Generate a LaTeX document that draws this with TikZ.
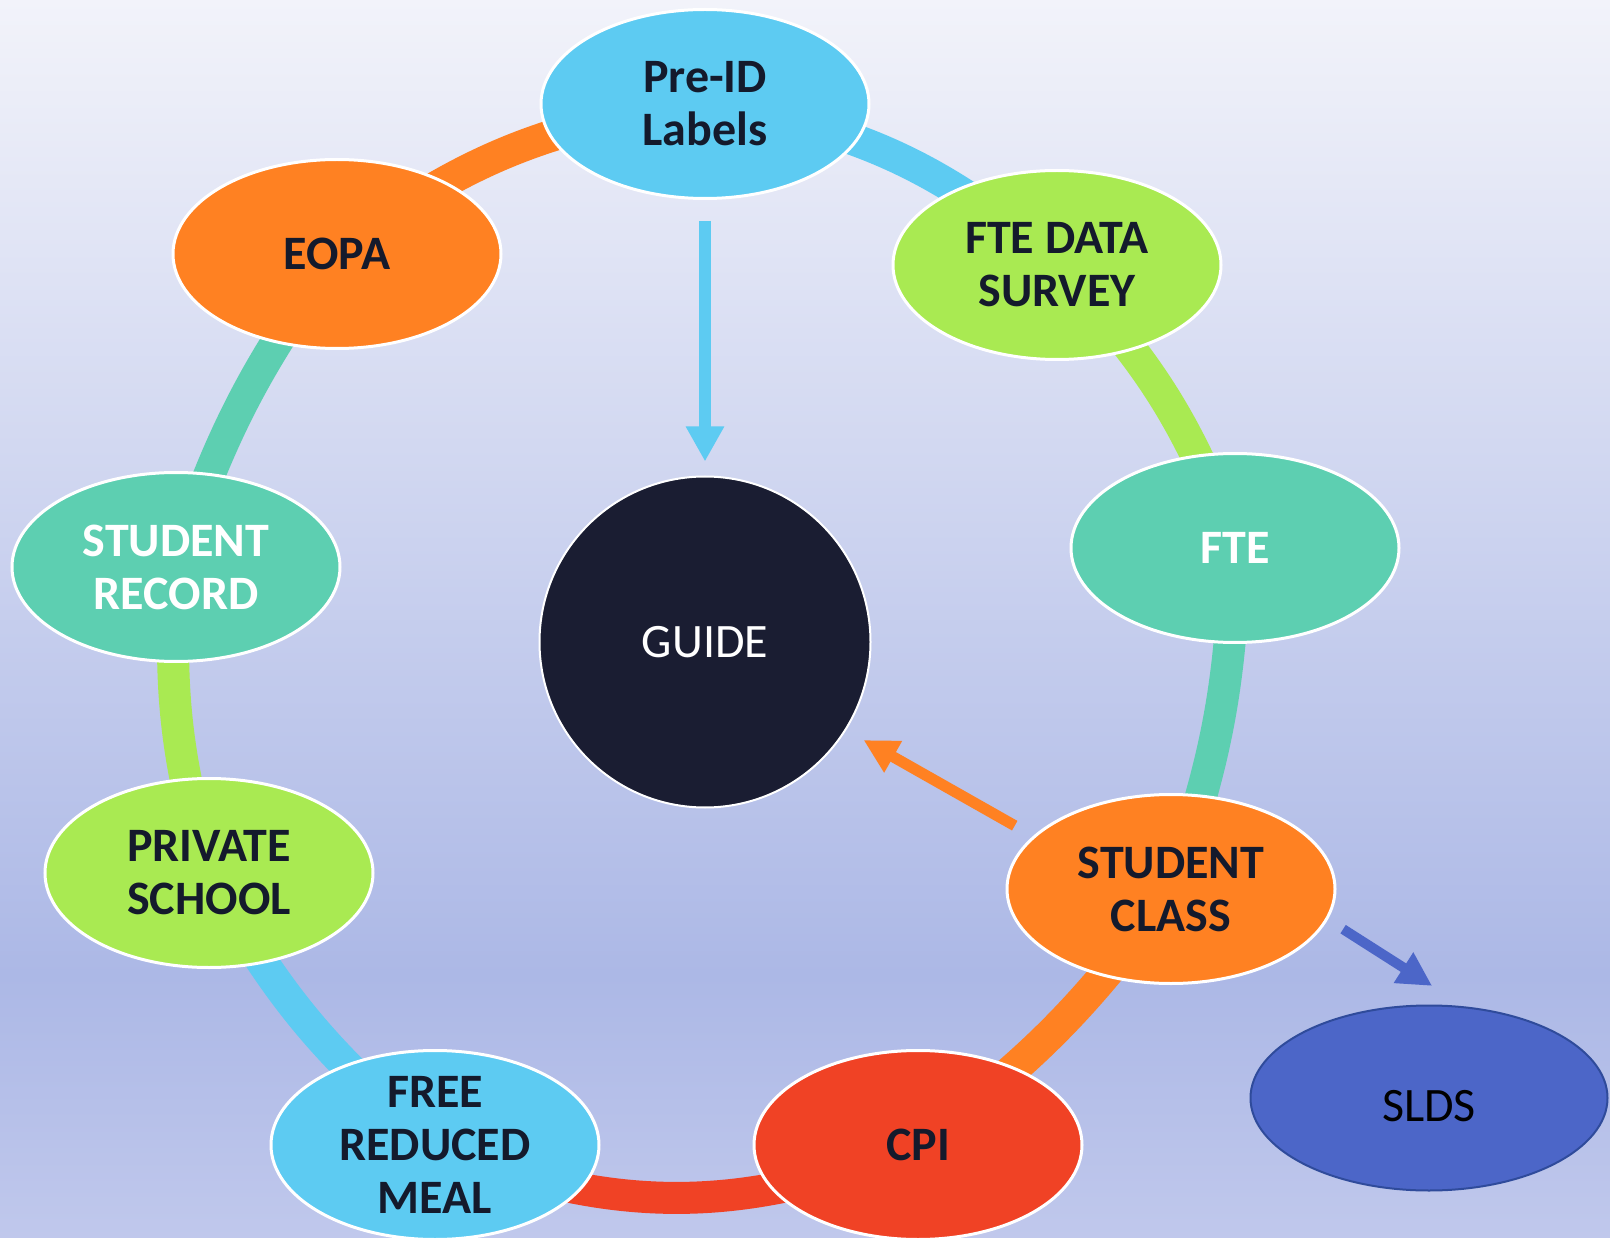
\documentclass[tikz,border=0pt]{standalone}
\usepackage{fontspec}
\setmainfont{Carlito}
\usetikzlibrary{arrows.meta,shapes.geometric}
\definecolor{cblue}{HTML}{5DCBF2}
\definecolor{corange}{HTML}{FF8122}
\definecolor{cgreen}{HTML}{A9EA52}
\definecolor{cteal}{HTML}{5DCFB1}
\definecolor{cred}{HTML}{F04225}
\definecolor{cslds}{HTML}{4C66C8}
\definecolor{csldsb}{HTML}{2F4B9B}
\definecolor{cguide}{HTML}{1A1D32}
\definecolor{ctext}{HTML}{141A2C}
\definecolor{bgtop}{HTML}{F2F3FA}
\definecolor{bgmid}{HTML}{ACB8E6}
\definecolor{bgbot}{HTML}{C0C8EC}
\pgfdeclarelayer{back}
\pgfsetlayers{back,main}
\begin{document}
\begin{tikzpicture}[x=1pt,y=1pt,
  oval/.style={ellipse, draw=white, line width=3pt, minimum width=328pt, minimum height=189pt, inner sep=0pt},
  lbl/.style={font=\bfseries\fontsize{48}{53}\selectfont, text=ctext, align=center, inner sep=0pt},
  wlbl/.style={lbl, text=white},
  ring/.style={line width=32pt},
  pointer/.style={line width=12pt, -{Triangle[length=35pt,width=36pt]}}
]
\useasboundingbox (0,0) rectangle (1610,-1238);
\clip (0,0) rectangle (1610,-1238);

\node[oval, fill=cblue, label={[lbl]center:Pre-ID\\Labels}] (preid) at (705,-104) {};
\node[oval, fill=corange, label={[lbl]center:EOPA}] (eopa) at (337,-254) {};
\node[oval, fill=cgreen, label={[lbl]center:FTE DATA\\SURVEY}] (ftedata) at (1057,-265) {};
\node[oval, fill=cteal, label={[wlbl]center:FTE}] (fte) at (1235,-548) {};
\node[oval, fill=cteal, label={[wlbl]center:STUDENT\\RECORD}] (record) at (176,-567) {};
\node[oval, fill=cgreen, label={[lbl]center:PRIVATE\\SCHOOL}] (private) at (209,-873) {};
\node[oval, fill=cblue, label={[lbl]center:FREE\\REDUCED\\MEAL}] (free) at (435,-1145) {};
\node[oval, fill=cred, label={[lbl]center:CPI}] (cpi) at (918,-1145) {};
\node[oval, fill=corange, label={[lbl]center:STUDENT\\CLASS}] (class) at (1171,-889) {};
\node[ellipse, draw=csldsb, line width=2pt, fill=cslds, minimum width=357pt, minimum height=185pt, inner sep=0pt,
      label={[font=\fontsize{48}{53}\selectfont, text=black, inner sep=0pt, yshift=-8pt]center:SLDS}] (slds) at (1429,-1098) {};
\node[circle, draw=white, line width=2pt, fill=cguide, minimum size=331pt, inner sep=0pt,
      font=\fontsize{48}{53}\selectfont, text=white] (guide) at (705,-642) {GUIDE};

\begin{pgfonlayer}{back}
\shade[top color=bgtop, bottom color=bgmid] (0,0) rectangle (1610,-975);
\shade[top color=bgmid, bottom color=bgbot] (0,-975) rectangle (1610,-1238);
\draw[ring, corange] (eopa.center) to[bend left=15] (preid.center);
\draw[ring, cblue] (preid.center) to[bend left=16] (ftedata.center);
\draw[ring, cgreen] (ftedata.center) to[bend left=12] (fte.center);
\draw[ring, cteal] (fte.center) to[bend left=9] (class.center);
\draw[ring, corange] (class.center) to[bend left=9] (cpi.center);
\draw[ring, cred] (cpi.center) to[bend left=22] (free.center);
\draw[ring, cblue] (free.center) to[bend left=11] (private.center);
\draw[ring, cgreen] (private.center) to[bend left=10] (record.center);
\draw[ring, cteal] (record.center) to[bend left=9] (eopa.center);
\end{pgfonlayer}

\draw[pointer, cblue, shorten <=21pt, shorten >=14pt] (preid) -- (guide);
\draw[pointer, corange, line width=11pt, -{Triangle[length=34pt,width=34pt]}, shorten <=21pt, shorten >=20pt] (class.159) -- (guide.-32);
\draw[pointer, cslds, line width=10pt, -{Triangle[length=34pt,width=34pt]}, shorten <=18pt, shorten >=38pt] (class.-11) -- (slds.69);
\end{tikzpicture}
\end{document}
